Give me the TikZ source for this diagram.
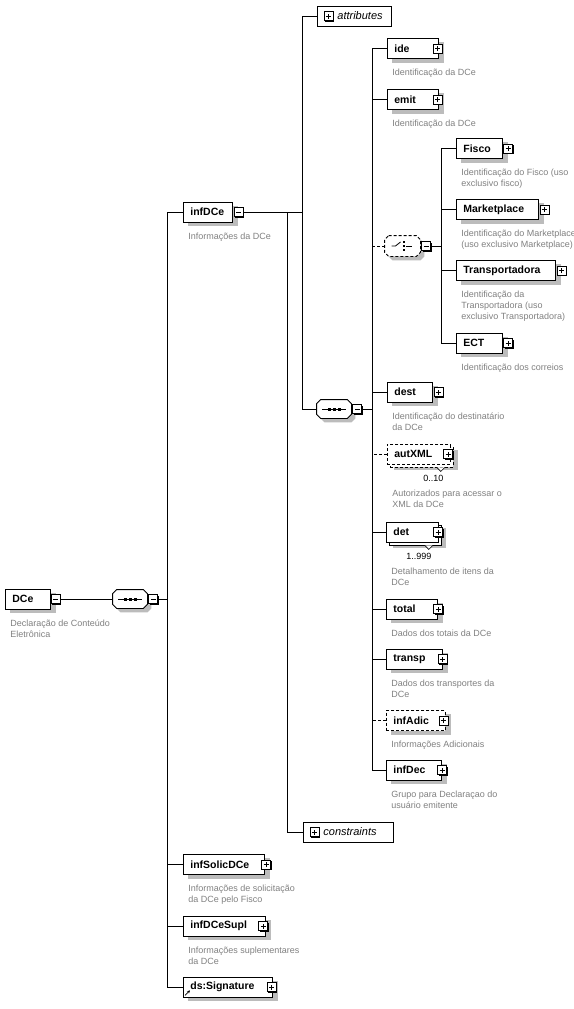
\documentclass[tikz,border=0pt]{standalone}
\usepackage{fontspec}
\setmainfont{Liberation Sans}
\usetikzlibrary{positioning,shadows,backgrounds,arrows.meta}

\definecolor{desctext}{RGB}{128,128,128}
\definecolor{shadowgrey}{RGB}{188,188,188}

% octogono do compositor (sequence / choice)
\newcommand{\octo}[2][]{\draw[fill=white,#1,drop shadow={shadow xshift=4pt,shadow yshift=-4pt,fill=shadowgrey,opacity=1}]
    ([xshift=4pt]#2.north west) -- ([xshift=-4pt]#2.north east) -- ([yshift=-4pt]#2.north east) -- ([yshift=4pt]#2.south east)
    -- ([xshift=-4pt]#2.south east) -- ([xshift=4pt]#2.south west) -- ([yshift=4pt]#2.south west) -- ([yshift=-4pt]#2.north west) -- cycle;}

\begin{document}
\begin{tikzpicture}[
    x=1pt, y=-1pt,
    line width=.8pt,
    elem/.style={rectangle,draw,fill=white,anchor=west,minimum height=20pt,inner xsep=7pt,inner ysep=0pt,align=left,font=\bfseries\fontsize{10.5}{12}\selectfont},
    optelem/.style={elem,dash pattern=on 3pt off 2pt},
    multi/.style={copy shadow={shadow xshift=3pt,shadow yshift=-3pt}},
    group/.style={rectangle,draw,fill=white,anchor=west,minimum height=20pt,inner xsep=6pt,inner ysep=0pt,align=left,font=\itshape\fontsize{11}{13}\selectfont},
    desc/.style={inner sep=0pt,align=left,text=desctext,font=\fontsize{9}{11}\selectfont},
    occ/.style={inner sep=0pt,font=\fontsize{9}{11}\selectfont},
    toggle/.style={rectangle,draw,fill=white,minimum size=9pt,inner sep=0pt,drop shadow={shadow xshift=1pt,shadow yshift=-1pt,fill=black,opacity=1}},
    minus/.style={toggle,path picture={\draw[line width=.9pt] ([xshift=-2.5pt]path picture bounding box.center) -- ([xshift=2.5pt]path picture bounding box.center);}},
    plus/.style={toggle,path picture={\draw[line width=.9pt] ([xshift=-2.5pt]path picture bounding box.center) -- ([xshift=2.5pt]path picture bounding box.center) ([yshift=-2.5pt]path picture bounding box.center) -- ([yshift=2.5pt]path picture bounding box.center);}},
    seqbox/.style={rectangle,minimum width=34pt,minimum height=18pt,inner sep=0pt},
    choicebox/.style={rectangle,minimum width=35pt,minimum height=20pt,inner sep=0pt},
    optlink/.style={dash pattern=on 3pt off 2pt}
]
\useasboundingbox (0,0) rectangle (573,1009);
\clip (0,0) rectangle (573,1009);

% raiz
\node[elem,text width=31pt] (DCe) at (5,599) {DCe};
\node[minus,right=0pt of DCe] (DCeT) {};
\node[desc,below right=10pt and 5pt of DCe.south west] (DCeD) {Declaração de Conteúdo\\Eletrônica};

% sequencia da raiz
\node[seqbox] (seqA) at (130,599) {};
\octo{seqA}
\draw ([xshift=-12pt]seqA.center) -- ([xshift=12pt]seqA.center);
\foreach \d in {-5,0,5} \fill ([shift={(\d pt-1.5pt,-1.5pt)}]seqA.center) rectangle ++(3pt,3pt);
\node[minus,right=1pt of seqA] (seqAT) {};
\coordinate (spA) at (167,599);

% filhos de DCe
\node[elem,text width=35pt] (infDCe) at (183,212) {infDCe};
\node[minus,right=1pt of infDCe] (infDCeT) {};
\node[desc,below right=10pt and 5pt of infDCe.south west] (infDCeD) {Informações da DCe};

\node[elem,text width=67pt] (infSolicDCe) at (183,864.5) {infSolicDCe};
\node[plus,right=-3.5pt of infSolicDCe] (infSolicDCeT) {};
\node[desc,below right=10pt and 5pt of infSolicDCe.south west] (infSolicDCeD) {Informações de solicitação\\da DCe pelo Fisco};

\node[elem,text width=68pt] (infDCeSupl) at (183,926) {infDCeSupl};
\node[plus,right=-7.5pt of infDCeSupl] (infDCeSuplT) {};
\node[desc,below right=10pt and 5pt of infDCeSupl.south west] (infDCeSuplD) {Informações suplementares\\da DCe};

\node[elem,text width=75pt] (sig) at (183,987) {ds:Signature};
\node[plus,right=-6pt of sig] (sigT) {};
\draw[-{Stealth[length=3pt,width=3pt]},line width=.7pt] ([shift={(2,-2)}]sig.south west) -- ++(5,-5);

% grupo de infDCe
\coordinate (spB) at (302,212);
\coordinate (spC) at (287,212);
\node[group,text width=62pt] (attr) at (317,16) {\hspace*{14pt}attributes};
\node[plus,right=6.5pt of attr.west] (attrT) {};
\node[group,text width=78pt] (constr) at (303,832) {\hspace*{14pt}constraints};
\node[plus,right=6.5pt of constr.west] (constrT) {};

\node[seqbox] (seqB) at (334,409) {};
\octo{seqB}
\draw ([xshift=-12pt]seqB.center) -- ([xshift=12pt]seqB.center);
\foreach \d in {-5,0,5} \fill ([shift={(\d pt-1.5pt,-1.5pt)}]seqB.center) rectangle ++(3pt,3pt);
\node[minus,right=1pt of seqB] (seqBT) {};
\coordinate (spD) at (372,409);

% elementos da sequencia
\node[elem,text width=37pt] (ide) at (387,48.5) {ide};
\node[plus,right=-6pt of ide] (ideT) {};
\node[desc,below right=10pt and 5pt of ide.south west] (ideD) {Identificação da DCe};

\node[elem,text width=37pt] (emit) at (387,99.5) {emit};
\node[plus,right=-6pt of emit] (emitT) {};
\node[desc,below right=10pt and 5pt of emit.south west] (emitD) {Identificação da DCe};

\node[choicebox] (choice) at (402.5,246) {};
\octo[dash pattern=on 3pt off 2pt]{choice}
\draw ([xshift=-11pt]choice.center) -- ([xshift=-7pt]choice.center) -- ([shift={(-2pt,4pt)}]choice.center);
\draw ([xshift=3pt]choice.center) -- ([xshift=9pt]choice.center);
\foreach \d in {-4,0,4} \fill ([shift={(0pt,\d pt-1.25pt)}]choice.center) rectangle ++(2.5pt,2.5pt);
\node[minus,right=1pt of choice] (choiceT) {};
\coordinate (spE) at (441,246);

\node[elem,text width=31pt] (dest) at (387,392) {dest};
\node[plus,right=1pt of dest] (destT) {};
\node[desc,below right=10pt and 5pt of dest.south west] (destD) {Identificação do destinatário\\da DCe};

\node[optelem,multi,text width=49pt] (autXML) at (387,454) {autXML};
\node[plus,right=-7.5pt of autXML] (autXMLT) {};
\draw[fill=white,line width=.6pt] ([shift={(-14,3)}]autXML.south east) -- ++(4,4) -- ++(4,-4);
\node[occ,below left=10pt and 7pt of autXML.south east] (autXMLO) {0..10};
\node[desc,below right=25pt and 5pt of autXML.south west] (autXMLD) {Autorizados para acessar o\\XML da DCe};

\node[elem,multi,text width=38pt] (det) at (386,532) {det};
\node[plus,right=-5.5pt of det] (detT) {};
\draw[fill=white,line width=.6pt] ([shift={(-14,3)}]det.south east) -- ++(4,4) -- ++(4,-4);
\node[occ,below left=10pt and 7pt of det.south east] (detO) {1..999};
\node[desc,below right=25pt and 5pt of det.south west] (detD) {Detalhamento de itens da\\DCe};

\node[elem,text width=37pt] (total) at (386,609) {total};
\node[plus,right=-4.5pt of total] (totalT) {};
\node[desc,below right=10pt and 5pt of total.south west] (totalD) {Dados dos totais da DCe};

\node[elem,text width=42pt] (transp) at (386,659) {transp};
\node[plus,right=-5pt of transp] (transpT) {};
\node[desc,below right=10pt and 5pt of transp.south west] (transpD) {Dados dos transportes da\\DCe};

\node[optelem,text width=45pt] (infAdic) at (386,720.5) {infAdic};
\node[plus,right=-7pt of infAdic] (infAdicT) {};
\node[desc,below right=10pt and 5pt of infAdic.south west] (infAdicD) {Informações Adicionais};

\node[elem,text width=41pt] (infDec) at (386,770) {infDec};
\node[plus,right=-4.5pt of infDec] (infDecT) {};
\node[desc,below right=10pt and 5pt of infDec.south west] (infDecD) {Grupo para Declaraçao do\\usuário emitente};

% elementos da escolha
\node[elem,text width=32pt] (Fisco) at (456,148.5) {Fisco};
\node[plus,right=.5pt of Fisco] (FiscoT) {};
\node[desc,below right=10pt and 5pt of Fisco.south west] (FiscoD) {Identificação do Fisco (uso\\exclusivo fisco)};

\node[elem,text width=68pt] (Marketplace) at (456,209.5) {Marketplace};
\node[plus,right=1pt of Marketplace] (MarketplaceT) {};
\node[desc,below right=10pt and 5pt of Marketplace.south west] (MarketplaceD) {Identificação do Marketplace\\(uso exclusivo Marketplace)};

\node[elem,text width=85pt] (Transportadora) at (456,270.5) {Transportadora};
\node[plus,right=1pt of Transportadora] (TransportadoraT) {};
\node[desc,below right=10pt and 5pt of Transportadora.south west] (TransportadoraD) {Identificação da\\Transportadora (uso\\exclusivo Transportadora)};

\node[elem,text width=32pt] (ECT) at (456,343) {ECT};
\node[plus,right=.5pt of ECT] (ECTT) {};
\node[desc,below right=10pt and 5pt of ECT.south west] (ECTD) {Identificação dos correios};

% sombras dos elementos
\begin{scope}[on background layer]
\foreach \n in {DCe,infDCe,infSolicDCe,infDCeSupl,sig,ide,emit,dest,total,transp,infAdic,infDec,Fisco,Marketplace,Transportadora,ECT}
    \fill[shadowgrey] ([shift={(5,4)}]\n.north west) rectangle ([shift={(5,4)}]\n.south east);
\foreach \n in {autXML,det}
    \fill[shadowgrey] ([shift={(7,6)}]\n.north west) rectangle ([shift={(7,6)}]\n.south east);
\end{scope}

% ligacoes
\draw (DCeT.east) -- (seqA.west);
\draw (seqAT.east) -- (spA);
\draw (infDCe.west) -| (spA);
\draw (infSolicDCe.west) -| (spA);
\draw (infDCeSupl.west) -| (spA);
\draw (sig.west) -| (spA);

\draw (infDCeT.east) -- (spB);
\draw (attr.west) -| (spB);
\draw (seqB.west) -| (spB);
\draw (constr.west) -| (spC);

\draw (seqBT.east) -- (spD);
\draw[optlink] (choice.west) -| (spD);
\draw[optlink] (autXML.west) -| (spD);
\draw[optlink] (infAdic.west) -| (spD);
\draw (ide.west) -| (spD);
\draw (emit.west) -| (spD);
\draw (dest.west) -| (spD);
\draw (det.west) -| (spD);
\draw (total.west) -| (spD);
\draw (transp.west) -| (spD);
\draw (infDec.west) -| (spD);

\draw (choiceT.east) -- (spE);
\draw (Fisco.west) -| (spE);
\draw (Marketplace.west) -| (spE);
\draw (Transportadora.west) -| (spE);
\draw (ECT.west) -| (spE);

\end{tikzpicture}
\end{document}
